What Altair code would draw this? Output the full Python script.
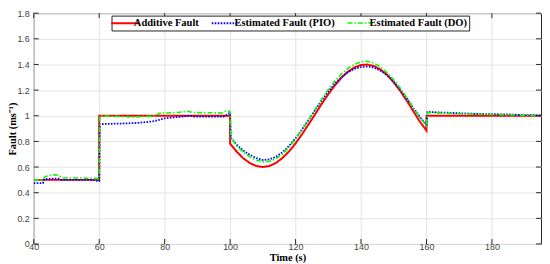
import altair as alt
import pandas as pd

series_names = ["Additive Fault", "Estimated Fault (PIO)", "Estimated Fault (DO)"]
series_colors = ["#ff0000", "#0000ff", "#00ff00"]

x_ticks = [40, 60, 80, 100, 120, 140, 160, 180]
y_ticks = [0, 0.2, 0.4, 0.6, 0.8, 1.0, 1.2, 1.4, 1.6, 1.8]

# Additive fault (red)
red_t = [40, 60, 60, 100, 100, 102, 104, 106, 108, 110, 112, 114, 116, 118, 120,
         122, 124, 126, 128, 130, 132, 134, 136, 138, 140, 142, 144, 146, 148, 150,
         152, 154, 156, 158, 160, 160, 195]
red_v = [0.5, 0.5, 1.0, 1.0, 0.782, 0.720, 0.669, 0.631, 0.608, 0.600, 0.608, 0.632,
         0.671, 0.722, 0.785, 0.857, 0.934, 1.013, 1.093, 1.168, 1.237, 1.296, 1.344,
         1.377, 1.396, 1.399, 1.387, 1.360, 1.319, 1.260, 1.193, 1.117, 1.035, 0.953,
         0.885, 1.0, 1.0]

# Estimated fault, PIO (blue dotted)
blue_t = [40, 42.8, 43.2, 46, 47.5, 48.5, 58, 59.8, 60, 60.2, 68, 72, 76, 78, 80, 84,
          88, 89, 98, 99.3, 99.7, 100, 100.2, 102, 104, 106, 108, 110, 112, 114, 116,
          118, 120, 122, 124, 126, 128, 130, 132, 134, 136, 138, 140, 142, 144, 146,
          148, 150, 152, 154, 156, 158, 160, 160.3, 165, 170, 175, 180, 185, 190, 195]
blue_v = [0.475, 0.475, 0.505, 0.51, 0.51, 0.50, 0.50, 0.49, 0.49, 0.935, 0.94, 0.945,
          0.955, 0.965, 0.98, 0.99, 1.0, 0.993, 0.993, 1.01, 1.02, 1.02, 0.83, 0.775,
          0.73, 0.695, 0.67, 0.655, 0.66, 0.68, 0.715, 0.765, 0.825, 0.895, 0.97, 1.045,
          1.12, 1.19, 1.25, 1.30, 1.34, 1.365, 1.38, 1.385, 1.375, 1.35, 1.315, 1.265,
          1.205, 1.135, 1.06, 0.99, 0.93, 1.03, 1.025, 1.02, 1.015, 1.012, 1.01, 1.005,
          1.003]

# Estimated fault, DO (green dash-dot)
green_t = [40, 42.5, 43.5, 45, 46.5, 47.5, 48.8, 55, 59.8, 60, 60.2, 65, 70, 75, 77,
           78.5, 84, 87, 88.5, 97.5, 98.5, 99.5, 100, 100.2, 102, 104, 106, 108, 110,
           112, 114, 116, 118, 120, 122, 124, 126, 128, 130, 132, 134, 136, 138, 140,
           142, 144, 146, 148, 150, 152, 154, 156, 158, 160, 160.3, 165, 170, 180, 190,
           195]
green_v = [0.50, 0.50, 0.525, 0.535, 0.54, 0.535, 0.515, 0.515, 0.51, 0.51, 1.0, 0.995,
           0.99, 0.995, 1.0, 1.02, 1.025, 1.035, 1.025, 1.022, 1.035, 1.038, 1.03, 0.83,
           0.765, 0.715, 0.68, 0.655, 0.64, 0.645, 0.665, 0.70, 0.755, 0.82, 0.89, 0.97,
           1.05, 1.13, 1.205, 1.27, 1.325, 1.37, 1.40, 1.42, 1.425, 1.41, 1.38, 1.335,
           1.28, 1.215, 1.14, 1.06, 0.985, 0.92, 1.025, 1.02, 1.015, 1.01, 1.003, 1.0]

rows = []
for name, ts, vs in zip(series_names, [red_t, blue_t, green_t], [red_v, blue_v, green_v]):
    for i, (t, v) in enumerate(zip(ts, vs)):
        rows.append({"series": name, "t": t, "v": v, "idx": i})
df = pd.DataFrame(rows)

W, H = 512, 233
AX = "#262626"

xs = alt.Scale(domain=[40, 195], nice=False, zero=False)
ys = alt.Scale(domain=[0, 1.8], nice=False)

xa = alt.Axis(
    values=x_ticks, title="Time (s)", ticks=False, tickSize=0, domain=False,
    grid=True, gridColor="#e4e4e4", labelFont="Liberation Sans", labelFontSize=9,
    labelColor="#444444", labelPadding=-1, labelFlush=False,
    titleFont="Liberation Serif", titleFontWeight="bold", titleFontSize=10.5,
    titleColor="#000000", titleY=8.5, titleBaseline="top")
ya = alt.Axis(
    values=y_ticks, title="Fault (ms⁻¹)", format="~g", ticks=False, tickSize=0,
    domain=False, grid=True, gridColor="#e4e4e4", labelFont="Liberation Sans",
    labelFontSize=9, labelColor="#444444", labelPadding=4.5, labelFlush=False,
    titleFont="Liberation Serif", titleFontWeight="bold", titleFontSize=10.5,
    titleColor="#000000", titleX=-16)

legend = alt.Legend(
    orient="none", legendX=78.5, legendY=2.5, direction="horizontal", title=None,
    labelFont="Liberation Serif", labelFontWeight="bold", labelFontSize=10.6,
    labelColor="#000000", symbolType="M-1.7,0H4.3", symbolSize=85,
    symbolStrokeWidth=1.6, labelOffset=9, columnPadding=8.5, padding=1.5,
    strokeColor=AX, fillColor="white", labelLimit=300,
)

lines = alt.Chart(df).mark_line(clip=True).encode(
    x=alt.X("t:Q", scale=xs, axis=xa),
    y=alt.Y("v:Q", scale=ys, axis=ya),
    color=alt.Color("series:N", scale=alt.Scale(domain=series_names, range=series_colors),
                    legend=legend),
    strokeDash=alt.StrokeDash("series:N", scale=alt.Scale(
        domain=series_names, range=[[1, 0], [1.6, 1.4], [5, 2, 1.5, 2]]), legend=legend),
    strokeWidth=alt.StrokeWidth("series:N", scale=alt.Scale(
        domain=series_names, range=[2.0, 1.6, 1.6]), legend=None),
    order=alt.Order("idx:Q"),
)

ytick_df = pd.DataFrame({"v": y_ticks})
xtick_df = pd.DataFrame({"t": x_ticks})

tk_left = alt.Chart(ytick_df).mark_rule(color=AX, strokeWidth=1).encode(
    y=alt.Y("v:Q", scale=ys, axis=ya), x=alt.value(0), x2=alt.value(5))
tk_right = alt.Chart(ytick_df).mark_rule(color=AX, strokeWidth=1).encode(
    y=alt.Y("v:Q", scale=ys, axis=ya), x=alt.value(W - 5), x2=alt.value(W))
tk_bottom = alt.Chart(xtick_df).mark_rule(color=AX, strokeWidth=1).encode(
    x=alt.X("t:Q", scale=xs, axis=xa), y=alt.value(H - 5), y2=alt.value(H))
tk_top = alt.Chart(xtick_df).mark_rule(color=AX, strokeWidth=1).encode(
    x=alt.X("t:Q", scale=xs, axis=xa), y=alt.value(0), y2=alt.value(5))

chart = alt.layer(lines, tk_left, tk_right, tk_bottom, tk_top).properties(
    width=W, height=H, padding=0, background="white"
).configure_view(stroke=AX, strokeWidth=1)

chart.save("out.html", embed_options={"renderer": "svg", "actions": False})
